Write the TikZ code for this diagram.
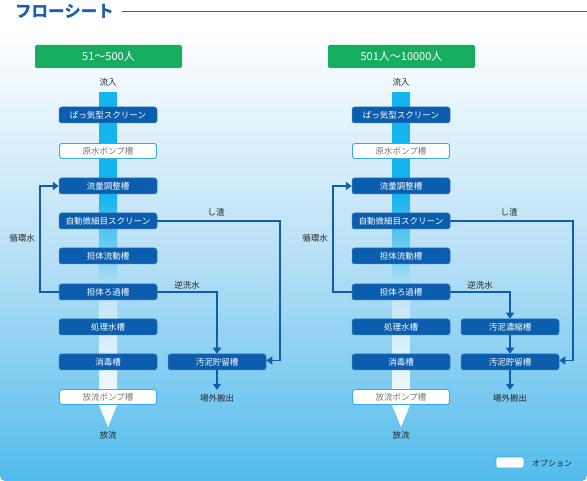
\documentclass[tikz,border=0pt]{standalone}
\usepackage{fontspec}
\setmainfont{Noto Sans CJK JP}
\usetikzlibrary{arrows.meta}
\definecolor{boxblue}{HTML}{0B5EAD}
\definecolor{boxedge}{HTML}{3A7CC2}
\definecolor{optedge}{HTML}{3AAAE4}
\definecolor{grn}{HTML}{17AD60}
\definecolor{linecol}{HTML}{0D5FAE}
\definecolor{barcyan}{HTML}{14B4EE}
\definecolor{barpale}{HTML}{C4E6F8}
\definecolor{bgmid}{HTML}{B8E0F6}
\definecolor{bgbot}{HTML}{52BCEC}
\definecolor{titlecol}{HTML}{1C5FAE}
\definecolor{txtgray}{HTML}{7A7A7A}
\tikzset{
  mainbox/.style={fill=boxblue,draw=boxedge,line width=0.5pt,rounded corners=2.5pt,minimum width=98pt,minimum height=16pt,inner sep=0pt,text=white,font=\fontsize{8.5}{9}\selectfont},
  optbox/.style={fill=white,draw=optedge,line width=0.9pt,rounded corners=2.5pt,minimum width=97pt,minimum height=15pt,inner sep=0pt,text=txtgray,font=\fontsize{8.5}{9}\selectfont},
  greenbox/.style={fill=grn,rounded corners=2pt,minimum width=147pt,minimum height=23pt,inner sep=0pt,text=white,font=\fontsize{11}{12}\selectfont},
  lbl/.style={inner sep=0pt,text=black!85,font=\fontsize{8.5}{9}\selectfont},
  flow/.style={draw=linecol,line width=1.7pt,-{Triangle[length=6pt,width=8pt]}},
}
\begin{document}
\begin{tikzpicture}[x=1pt,y=-1pt]
\useasboundingbox (0,0) rectangle (587,481);
% background panel
\shade[top color=white,bottom color=bgbot,middle color=bgmid]
  (0,30) -- (587,30) -- (587,476) arc[start angle=0,end angle=90,radius=5] -- (5,481)
  arc[start angle=90,end angle=180,radius=5] -- cycle;
% title
\node[anchor=west,inner sep=0pt,text=titlecol,font=\fontsize{16.5}{17}\selectfont\bfseries] (title) at (15,11) {フローシート};
\coordinate (tlineend) at (587,11);
\draw[titlecol!80!gray,line width=0.6pt] ([xshift=8pt]title.east) -- (tlineend);

% ---------- main bars ----------
\foreach \dx in {0,293}{
  \begin{scope}[xshift=\dx]
    \clip (99,92) -- (117,92) -- (117,405) -- (108,427) -- (99,405) -- cycle;
    \fill[barcyan] (99,92) rectangle (117,195);
    \shade[top color=barcyan,bottom color=barpale] (99,195) rectangle (117,300);
    \shade[top color=barpale,bottom color=white] (99,300) rectangle (117,427);
  \end{scope}
}

% ---------- left column ----------
\node[greenbox] (Lg) at (108.5,56.5) {51～500人};
\node[lbl] (Lin) at (108,82) {流入};
\node[mainbox] (L1) at (108,115) {ぱっ気型スクリーン};
\node[optbox] (L2) at (108,151) {原水ポンプ槽};
\node[mainbox] (L3) at (108,186) {流量調整槽};
\node[mainbox] (L4) at (108,221) {自動微細目スクリーン};
\node[mainbox] (L5) at (108,256) {担体流動槽};
\node[mainbox] (L6) at (108,292) {担体ろ過槽};
\node[mainbox] (L7) at (108,327) {処理水槽};
\node[mainbox] (L8) at (108,362) {消毒槽};
\node[optbox] (L9) at (108,397) {放流ポンプ槽};
\node[lbl] (Lout) at (108,435) {放流};
\node[mainbox] (Ls) at (217,362) {汚泥貯留槽};
\node[lbl] (Lx) at (217,398) {場外搬出};
\node[lbl] (Lr) at (22,238) {循環水};
\node[lbl] (Lsh) at (216,212) {し渣};
\node[lbl] (Lb) at (187,285) {逆洗水};
\draw[flow] (L6.west) -- ++(-19,0) |- (L3.west);
\draw[flow] (L4.east) -- ++(123,0) |- ([yshift=1.5pt]Ls.east);
\draw[flow] (L6.east) -| (Ls.north);
\draw[flow] (Ls.south) -- ([yshift=4pt]Lx.north);

% ---------- right column ----------
\node[greenbox] (Rg) at (401.5,56.5) {501人～10000人};
\node[lbl] (Rin) at (401,82) {流入};
\node[mainbox] (R1) at (401,115) {ぱっ気型スクリーン};
\node[optbox] (R2) at (401,151) {原水ポンプ槽};
\node[mainbox] (R3) at (401,186) {流量調整槽};
\node[mainbox] (R4) at (401,221) {自動微細目スクリーン};
\node[mainbox] (R5) at (401,256) {担体流動槽};
\node[mainbox] (R6) at (401,292) {担体ろ過槽};
\node[mainbox] (R7) at (401,327) {処理水槽};
\node[mainbox] (R8) at (401,362) {消毒槽};
\node[optbox] (R9) at (401,397) {放流ポンプ槽};
\node[lbl] (Rout) at (401,435) {放流};
\node[mainbox] (Rc) at (510,327) {汚泥濃縮槽};
\node[mainbox] (Rs) at (510,362) {汚泥貯留槽};
\node[lbl] (Rx) at (510,398) {場外搬出};
\node[lbl] (Rr) at (315,238) {循環水};
\node[lbl] (Rsh) at (509,212) {し渣};
\node[lbl] (Rb) at (480,285) {逆洗水};
\draw[flow] (R6.west) -- ++(-19,0) |- (R3.west);
\draw[flow] (R4.east) -- ++(123,0) |- ([yshift=1.5pt]Rs.east);
\draw[flow] (R6.east) -| (Rc.north);
\draw[flow] (Rc.south) -- (Rs.north);
\draw[flow] (Rs.south) -- ([yshift=4pt]Rx.north);

% ---------- legend ----------
\node[optbox,minimum width=28pt,minimum height=11pt,line width=0.6pt,rounded corners=2pt] (leg) at (510,462.5) {};
\node[lbl,anchor=west,font=\fontsize{8}{9}\selectfont] (legt) at (532,463) {オプション};
\end{tikzpicture}
\end{document}
